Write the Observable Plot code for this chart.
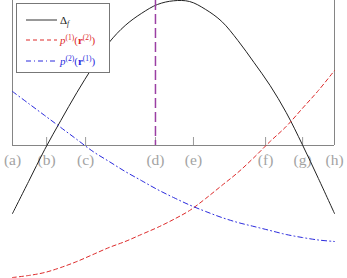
<!DOCTYPE html>
<html>
<head>
<meta charset="utf-8">
<script src="https://cdn.jsdelivr.net/npm/d3@7"></script>
<script src="https://cdn.jsdelivr.net/npm/@observablehq/plot@0.6"></script>
<style>
  html, body { margin: 0; padding: 0; background: #fff; }
  #wrap { position: relative; width: 347px; height: 278px; }
  #legend {
    position: absolute; left: 16px; top: 3px; width: 92px; height: 68px;
    border: 1px solid #777; background: #fff;
    font-family: "Liberation Serif", "DejaVu Serif", serif; font-size: 11px;
  }
  .row { position: absolute; left: 9px; height: 14px; display: flex; align-items: center; white-space: nowrap; }
  .row svg { display: block; margin-right: 3px; }
  .row sup { font-size: 7.5px; vertical-align: 4px; line-height: 0; }
  .row sub { font-size: 7.5px; vertical-align: -2px; line-height: 0; }
</style>
</head>
<body>
<div id="wrap"></div>
<script>
// x sample positions (fraction of the span from (a) to (h))
const xs = [0, 0.05, 0.1, 0.15, 0.2, 0.25, 0.3, 0.35, 0.4, 0.45, 0.5, 0.55, 0.6, 0.65, 0.7, 0.75, 0.8, 0.85, 0.9, 0.95, 1];
// series values (axis line = 0)
const deltaF = [-0.68, -0.36, -0.04, 0.25, 0.53, 0.79, 1.03, 1.20, 1.32, 1.41, 1.447, 1.44, 1.36, 1.24, 1.05, 0.83, 0.60, 0.33, 0.01, -0.33, -0.68];
const p1r2   = [-1.32, -1.30, -1.27, -1.22, -1.16, -1.09, -1.02, -0.96, -0.89, -0.82, -0.74, -0.65, -0.53, -0.40, -0.27, -0.12, 0.04, 0.19, 0.37, 0.55, 0.75];
const p2r1   = [0.54, 0.42, 0.30, 0.18, 0.06, -0.06, -0.16, -0.26, -0.35, -0.44, -0.52, -0.595, -0.66, -0.72, -0.77, -0.81, -0.85, -0.89, -0.92, -0.945, -0.96];
// tick positions and labels
const tickPos = [0, 0.106, 0.227, 0.444, 0.562, 0.786, 0.901, 1];
const tickLabels = ["(a)", "(b)", "(c)", "(d)", "(e)", "(f)", "(g)", "(h)"];
const markerPos = [0.444];

const labelMap = new Map(tickPos.map((p, i) => [p, tickLabels[i]]));
const rows = xs.map((x, i) => ({x, d: deltaF[i], p1: p1r2[i], p2: p2r1[i]}));

const chart = Plot.plot({
  width: 347,
  height: 278,
  marginLeft: 12,
  marginRight: 13,
  marginTop: 0,
  marginBottom: 133,
  style: {fontFamily: "'Liberation Serif', serif", background: "#fff"},
  x: {domain: [0, 1], axis: null, label: null},
  y: {domain: [0, 1.45], axis: null, label: null},
  marks: [
    Plot.axisX(tickPos, {anchor: "bottom", label: null, tickSize: -8, stroke: "#9a9a9a", tickFormat: () => ""}),
    Plot.axisX(tickPos, {anchor: "bottom", label: null, tickSize: 0, tickPadding: 8, fontSize: 15.5, fill: "#a3a3a3",
                         fontFamily: "'Liberation Serif', serif", tickFormat: d => labelMap.get(d)}),
    Plot.ruleX([0, 1], {stroke: "#858585", strokeWidth: 1}),
    Plot.ruleY([0], {stroke: "#858585", strokeWidth: 1}),
    Plot.line(rows, {x: "x", y: "d", stroke: "#222", strokeWidth: 1, curve: "catmull-rom"}),
    Plot.line(rows, {x: "x", y: "p1", stroke: "#dd2a2a", strokeWidth: 1, strokeDasharray: "4,3", curve: "catmull-rom"}),
    Plot.line(rows, {x: "x", y: "p2", stroke: "#2a2add", strokeWidth: 1, strokeDasharray: "5,3,1,3", curve: "catmull-rom"}),
    Plot.ruleX(markerPos, {stroke: "#9b3fa3", strokeWidth: 1.5, strokeDasharray: "10,4"})
  ]
});

const wrap = document.getElementById("wrap");
wrap.appendChild(chart);

const legend = document.createElement("div");
legend.id = "legend";
legend.innerHTML = `
  <div class="row" style="top:9px">
    <svg width="31" height="4"><line x1="0" y1="2" x2="31" y2="2" stroke="#333" stroke-width="1"/></svg>
    <span style="color:#222">&Delta;<sub><i>f</i></sub></span>
  </div>
  <div class="row" style="top:29px">
    <svg width="31" height="4"><line x1="0" y1="2" x2="31" y2="2" stroke="#dd2a2a" stroke-width="1" stroke-dasharray="4,3"/></svg>
    <span style="color:#dd2a2a"><i>p</i><sup>(1)</sup>(<b>r</b><sup>(2)</sup>)</span>
  </div>
  <div class="row" style="top:50px">
    <svg width="31" height="4"><line x1="0" y1="2" x2="31" y2="2" stroke="#2a2add" stroke-width="1" stroke-dasharray="5,3,1,3"/></svg>
    <span style="color:#2a2add"><i>p</i><sup>(2)</sup>(<b>r</b><sup>(1)</sup>)</span>
  </div>`;
wrap.appendChild(legend);
</script>
</body>
</html>
